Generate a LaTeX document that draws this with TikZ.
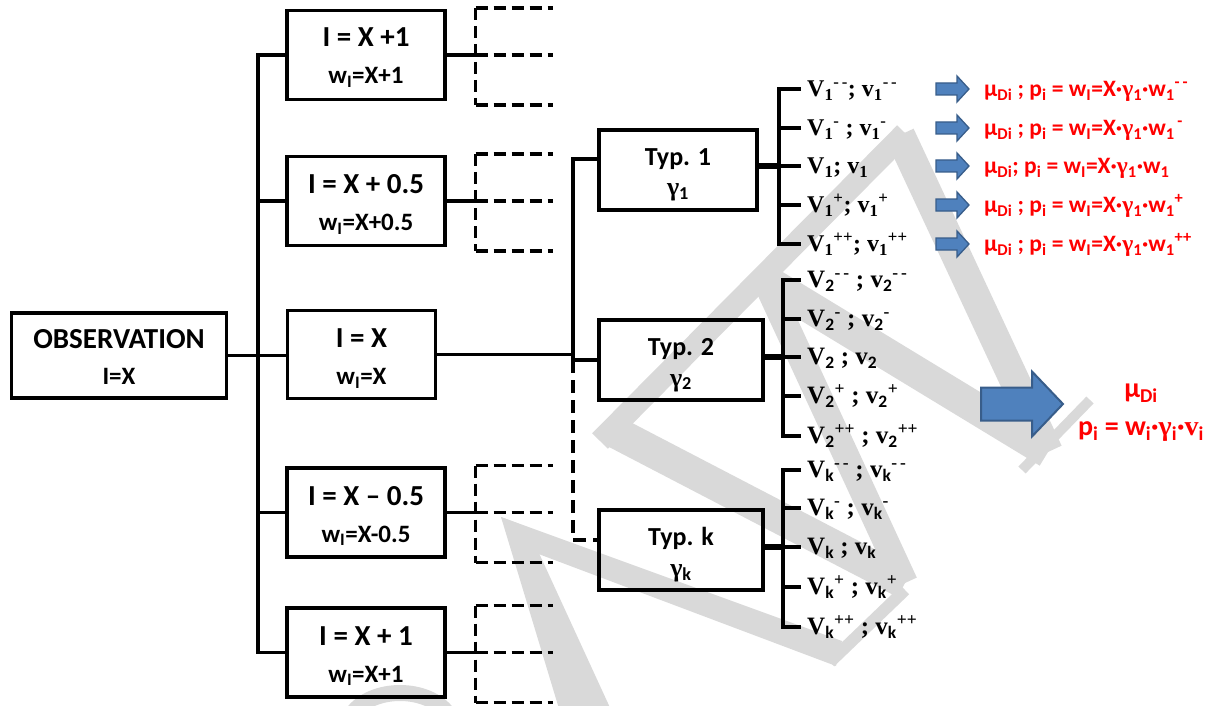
\documentclass[tikz,border=0pt]{standalone}
\usepackage{fontspec}
\setmainfont{Carlito}
\newfontfamily\tnr{Liberation Serif}
\newfontfamily\cbr{Carlito}
\usetikzlibrary{calc}
\definecolor{wmgray}{RGB}{217,217,217}
\definecolor{arrowfill}{RGB}{79,129,189}
\definecolor{arrowline}{RGB}{56,93,138}
\definecolor{labred}{RGB}{255,0,0}
\newcommand{\fs}[1]{\fontsize{#1}{#1}\selectfont}
\newcommand{\sbs}[1]{\textsubscript{#1}}
\newcommand{\sps}[1]{\textsuperscript{#1}}
\tikzset{
  smallarrow/.pic={\draw[draw=arrowline, fill=arrowfill, line width=1.3pt, line join=miter]
      (0,-6) -- (21,-6) -- (21,-13) -- (33,0) -- (21,13) -- (21,6) -- (0,6) -- cycle;},
  bigarrow/.pic={\draw[draw=arrowline, fill=arrowfill, line width=2pt, line join=miter]
      (0,-16.5) -- (51,-16.5) -- (51,-32.5) -- (82,0) -- (51,32.5) -- (51,16.5) -- (0,16.5) -- cycle;}
}
\begin{document}
\begin{tikzpicture}[x=1pt,y=-1pt,
  box/.style={draw, line width=3.4pt, inner sep=0pt},
  conn/.style={line width=3.4pt},
  hub/.style={line width=6pt},
  dashline/.style={line width=3.4pt, dash pattern=on 12pt off 6pt},
  txtA/.style={font=\fs{29}\bfseries, anchor=base, inner sep=0pt},
  txtB/.style={font=\fs{25}\bfseries, anchor=base, inner sep=0pt},
  typtxt/.style={font=\fs{26}\bfseries, anchor=base, inner sep=0pt},
  vlab/.style={font=\tnr\fs{24}\bfseries, anchor=west, inner sep=0pt, text height=15.5pt, text depth=0pt},
  vlabb/.style={vlab, font=\tnr\fs{25}\bfseries},
  redlab/.style={font=\fs{23.5}\bfseries, text=labred, anchor=west, inner sep=0pt, text height=15pt, text depth=0pt},
  bigred/.style={font=\fs{28}\bfseries, text=labred, anchor=base, inner sep=0pt},
  wm/.style={draw=wmgray, line cap=butt},
]
\useasboundingbox (0,0) rectangle (1216,706);

% faint watermark lettering behind the chart
\draw[wm, line width=16pt] (352,714) .. controls (372,686) and (428,686) .. (448,714);
\fill[wmgray] (501,517) -- (527,527) -- (612,712) -- (560,712) -- cycle;
\fill[wmgray] (501,517) -- (842,641) -- (836,666) -- (512,544) -- cycle;
\draw[wm, line width=12pt] (830,662) -- (905,590);
\draw[wm, line width=22pt] (600,441) -- (905,133);
\draw[wm, line width=32pt] (611,430) -- (905,583);
\draw[wm, line width=26pt] (905,583) -- (765,280);
\draw[wm, line width=32pt] (765,280) -- (1048,452);
\draw[wm, line width=30pt] (1048,452) -- (900,135);
\draw[wm, line width=10pt] (1022,470) -- (1090,400);

% observation and intensity boxes
\node[box, minimum width=215pt, minimum height=85pt] (obs) at (119,355.5) {};
\node[box, minimum width=158pt, minimum height=89pt] (i1) at (366,55) {};
\node[box, minimum width=158pt, minimum height=89pt] (i2) at (366,201) {};
\node[box, minimum width=148pt, minimum height=88pt] (i3) at (361.5,354.5) {};
\node[box, minimum width=158pt, minimum height=89pt] (i4) at (366,512.5) {};
\node[box, minimum width=158pt, minimum height=89pt] (i5) at (366,652.5) {};

\node[txtA] (obsa) at (119,348) {OBSERVATION};
\node[txtB] (obsb) at (119,384) {I=X};
\node[txtA] (i1a) at (366,47) {I = X +1};
\node[txtB] (i1b) at (366,84) {w\sbs{I}=X+1};
\node[txtA] (i2a) at (366,193.5) {I = X + 0.5};
\node[txtB] (i2b) at (366,230.5) {w\sbs{I}=X+0.5};
\node[txtA] (i3a) at (361.5,347.5) {I = X};
\node[txtB] (i3b) at (361.5,384.5) {w\sbs{I}=X};
\node[txtA] (i4a) at (366,505) {I = X – 0.5};
\node[txtB] (i4b) at (366,542) {w\sbs{I}=X-0.5};
\node[txtA] (i5a) at (366,645) {I = X + 1};
\node[txtB] (i5b) at (366,682) {w\sbs{I}=X+1};

% tree from the observation to the intensity boxes
\coordinate (trunk) at (258,0);
\draw[conn] (i1.west) -- (trunk |- i1.west) -- (trunk |- i5.west) -- (i5.west);
\draw[conn] (trunk |- i2.west) -- (i2.west);
\draw[conn] (trunk |- i4.west) -- (i4.west);
\draw[conn] (obs.east) -- (obs.east -| i3.west);

% open (dashed) branches of the other intensities
\foreach \b in {i1,i2,i4,i5}{
  \coordinate (d\b) at ($(\b.east)+(29,0)$);
  \draw[conn] (\b.east) -- ([xshift=4pt]d\b);
  \draw[dashline] ($(d\b)+(0,-47)$) -- ($(d\b)+(0,50)$);
  \draw[dashline] ($(d\b)+(0,-47)$) -- ($(d\b)+(77,-47)$);
  \draw[dashline] (d\b) -- ($(d\b)+(77,0)$);
  \draw[dashline] ($(d\b)+(0,50)$) -- ($(d\b)+(77,50)$);
}

% type boxes
\node[box, minimum width=158pt, minimum height=80pt] (t1) at (678,170) {};
\node[box, minimum width=164pt, minimum height=80pt] (t2) at (681,360) {};
\node[box, minimum width=164pt, minimum height=80pt] (tk) at (681,550) {};
\node[typtxt] (t1a) at (678,165) {Typ. 1};
\node[typtxt] (t1b) at (678,196) {{\tnr γ}\sbs{1}};
\node[typtxt] (t2a) at (681,355) {Typ. 2};
\node[typtxt] (t2b) at (681,386) {{\tnr γ}\sbs{2}};
\node[typtxt] (tka) at (681,545) {Typ. k};
\node[typtxt] (tkb) at (681,576) {{\tnr γ}\sbs{k}};

\coordinate (spine) at (573,0);
\coordinate (t1in) at ([yshift=11pt]t1.west);
\coordinate (tkin) at ([yshift=10pt]tk.west);
\draw[conn] (t1in) -- (spine |- t1in) -- (spine |- t2.west) -- (t2.west);
\draw[conn] (i3.east) -- (i3.east -| spine);
\draw[dashline, dash pattern=on 13pt off 7pt] (spine |- t2.west) -- (spine |- tkin) -- (tkin);

% variants of type 1
\node[vlab] (v11) at (807,89)  {V\sbs{1}\sps{-\,-}; v\sbs{1}\sps{-\,-}};
\node[vlab] (v12) at (807,128) {V\sbs{1}\sps{-} ; v\sbs{1}\sps{-}};
\node[vlab] (v13) at (807,166) {V\sbs{1}; v\sbs{1}};
\node[vlab] (v14) at (807,205) {V\sbs{1}\sps{+}; v\sbs{1}\sps{+}};
\node[vlab] (v15) at (807,244) {V\sbs{1}\sps{++}; v\sbs{1}\sps{++}};
% variants of type 2
\node[vlabb] (v21) at (807,280) {V\sbs{\cbr 2}\sps{-\,-} ; v\sbs{\cbr 2}\sps{-\,-}};
\node[vlabb] (v22) at (807,319) {V\sbs{\cbr 2}\sps{-} ; v\sbs{\cbr 2}\sps{-}};
\node[vlabb] (v23) at (807,357) {V\sbs{\cbr 2} ; v\sbs{\cbr 2}};
\node[vlabb] (v24) at (807,396) {V\sbs{\cbr 2}\sps{+} ; v\sbs{\cbr 2}\sps{+}};
\node[vlabb] (v25) at (807,436) {V\sbs{\cbr 2}\sps{++} ; v\sbs{\cbr 2}\sps{++}};
% variants of type k
\node[vlabb] (vk1) at (807,470) {V\sbs{\cbr k}\sps{-\,-} ; v\sbs{\cbr k}\sps{-\,-}};
\node[vlabb] (vk2) at (807,508) {V\sbs{\cbr k}\sps{-} ; v\sbs{\cbr k}\sps{-}};
\node[vlabb] (vk3) at (807,547) {V\sbs{\cbr k} ; v\sbs{\cbr k}};
\node[vlabb] (vk4) at (807,587) {V\sbs{\cbr k}\sps{+} ; v\sbs{\cbr k}\sps{+}};
\node[vlabb] (vk5) at (807,627) {V\sbs{\cbr k}\sps{++} ; v\sbs{\cbr k}\sps{++}};

% brackets from each type to its variants
\coordinate (b1) at (779,0);
\coordinate (b2) at (783,0);
\draw[hub] (t1.east |- v13.west) -- (b1 |- v13.west);
\draw[conn] ([xshift=-6pt]v11.west) -- (b1 |- v11.west) -- (b1 |- v15.west) -- ([xshift=-6pt]v15.west);
\foreach \r in {2,3,4} \draw[conn] (b1 |- v1\r.west) -- ([xshift=-6pt]v1\r.west);
\draw[hub] (t2.east |- v23.west) -- (b2 |- v23.west);
\draw[conn] ([xshift=-6pt]v21.west) -- (b2 |- v21.west) -- (b2 |- v25.west) -- ([xshift=-6pt]v25.west);
\foreach \r in {2,3,4} \draw[conn] (b2 |- v2\r.west) -- ([xshift=-6pt]v2\r.west);
\draw[hub] (tk.east |- vk3.west) -- (b2 |- vk3.west);
\draw[conn] ([xshift=-6pt]vk1.west) -- (b2 |- vk1.west) -- (b2 |- vk5.west) -- ([xshift=-6pt]vk5.west);
\foreach \r in {2,3,4} \draw[conn] (b2 |- vk\r.west) -- ([xshift=-6pt]vk\r.west);

% resulting probabilities for type 1
\foreach \y in {89,128,166,205,244} \pic at (936,\y) {smallarrow};
\node[redlab] (r1) at (984,89)  {μ\sbs{Di} ; p\sbs{i} = w\sbs{I}=X·{\tnr γ}\sbs{1}·w\sbs{1}\sps{-\,-}};
\node[redlab] (r2) at (984,128) {μ\sbs{Di} ; p\sbs{i} = w\sbs{I}=X·{\tnr γ}\sbs{1}·w\sbs{1}\sps{\,-}};
\node[redlab] (r3) at (984,166) {μ\sbs{Di}; p\sbs{i} = w\sbs{I}=X·{\tnr γ}\sbs{1}·w\sbs{1}};
\node[redlab] (r4) at (984,205) {μ\sbs{Di} ; p\sbs{i} = w\sbs{I}=X·{\tnr γ}\sbs{1}·w\sbs{1}\sps{+}};
\node[redlab] (r5) at (984,244) {μ\sbs{Di} ; p\sbs{i} = w\sbs{I}=X·{\tnr γ}\sbs{1}·w\sbs{1}\sps{++}};

% general result
\pic at (981,404) {bigarrow};
\node[bigred] (m0) at (1141,397) {μ\sbs{Di}};
\node[bigred] (m1) at (1141,435) {p\sbs{i} = w\sbs{i}·{\tnr γ}\sbs{i}·{\tnr v}\sbs{i}};
\end{tikzpicture}
\end{document}
